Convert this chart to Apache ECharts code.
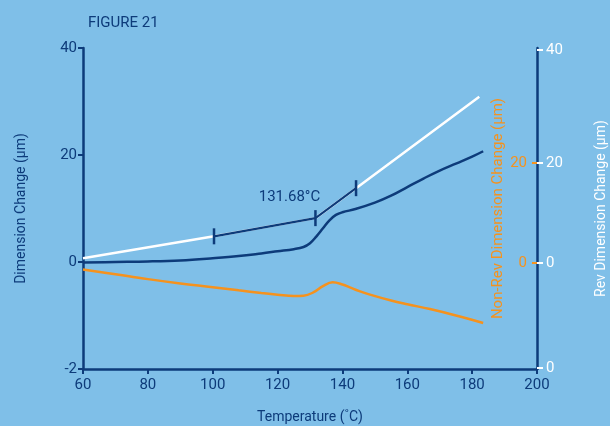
<!DOCTYPE html>
<html>
<head>
<meta charset="utf-8">
<script src="https://cdn.jsdelivr.net/npm/echarts@6/dist/echarts.min.js"></script>
<style>
  html, body { margin: 0; padding: 0; background: #7fbfe8; }
  #chart { width: 610px; height: 426px; }
</style>
</head>
<body>
<div id="chart"></div>
<script>
// Temperature axis
const tempMin = 60, tempMax = 200, tempStep = 20;

// Left axis: Dimension Change (µm)
const leftTicks = [-20, 0, 20, 40];
const leftTickText = ['-2', '0', '20', '40'];

// Right axes tick positions and their printed labels
const revTicks = [-19.8, -0.2, 18.5, 39.6];
const revTickText = ['0', '0', '20', '40'];
const nonRevTicks = [-0.2, 18.5];
const nonRevTickText = ['0', '20'];

// Total dimension change
const totalTemp = [60, 70, 80, 90, 100, 108, 115, 120, 125, 128, 130, 132, 134, 136, 138, 140, 144, 150, 155, 160, 165, 170, 175, 180, 183.4];
const totalVal  = [-0.1, 0.0, 0.1, 0.3, 0.7, 1.1, 1.6, 2.0, 2.4, 2.8, 3.5, 4.8, 6.3, 7.8, 8.8, 9.3, 9.9, 11.1, 12.4, 14.0, 15.6, 17.1, 18.4, 19.7, 20.7];

// Reversing dimension change
const revTemp = [60, 100.4, 131.68, 144.2, 182.2];
const revVal  = [0.7, 4.8, 8.2, 13.8, 30.9];

// Non-reversing dimension change
const nonRevTemp = [60, 70, 80, 90, 100, 108, 115, 120, 125, 128, 131, 134, 137, 140, 142.5, 145, 148.5, 155, 160, 167, 175, 183.4];
const nonRevVal  = [-1.4, -2.3, -3.2, -4.0, -4.7, -5.3, -5.8, -6.1, -6.35, -6.3, -5.7, -4.5, -3.8, -4.2, -4.8, -5.4, -6.1, -7.2, -7.9, -8.8, -10.0, -11.4];

// Glass transition construction on the reversing curve
const tgTemp = [100.4, 131.68, 144.2];
const tgVal  = [4.8, 8.2, 13.8];
const tgOnset = 131.68;

const navy = '#0d3b7a';
const orange = '#f5921e';
const white = '#ffffff';
const font = 'Roboto, "Noto Sans", sans-serif';

const zip = (xs, ys) => xs.map((x, i) => [x, ys[i]]);
const lookup = (ticks, texts) => v => {
  const i = ticks.findIndex(t => Math.abs(t - v) < 1e-6);
  return i >= 0 ? texts[i] : '';
};

const chart = echarts.init(document.getElementById('chart'), null, { renderer: 'canvas' });

chart.setOption({
  backgroundColor: '#7fbfe8',
  animation: false,
  textStyle: { fontFamily: font },
  title: {
    text: 'FIGURE 21',
    left: 83, top: 11,
    textStyle: { color: navy, fontSize: 15, fontWeight: 'normal', fontFamily: font }
  },
  grid: { left: 83, right: 73, top: 48, bottom: 57, containLabel: false, outerBoundsMode: 'none' },
  xAxis: {
    type: 'value',
    min: tempMin, max: tempMax, interval: tempStep,
    name: 'Temperature (˚C)',
    nameLocation: 'middle',
    nameGap: 41,
    nameTextStyle: { color: navy, fontSize: 14, fontFamily: font },
    axisLine: { show: true, onZero: false, lineStyle: { color: navy, width: 2.5 } },
    axisTick: { show: true, length: 5, lineStyle: { color: navy, width: 2 } },
    axisLabel: { color: navy, fontSize: 15, margin: 9, fontFamily: font },
    splitLine: { show: false }
  },
  yAxis: [
    {
      type: 'value',
      position: 'left',
      min: -20, max: 40, interval: 20,
      name: 'Dimension Change (µm)',
      nameLocation: 'middle',
      nameGap: 55,
      nameTextStyle: { color: navy, fontSize: 14, fontFamily: font },
      axisLine: { show: true, lineStyle: { color: navy, width: 2.5 } },
      axisTick: { show: true, length: 5, lineStyle: { color: navy, width: 2 } },
      axisLabel: { color: navy, fontSize: 15, margin: 6, fontFamily: font,
                   formatter: lookup(leftTicks, leftTickText) },
      splitLine: { show: false }
    },
    {
      type: 'value',
      position: 'right',
      min: -20, max: 40,
      name: 'Rev Dimension Change (µm)',
      nameLocation: 'middle',
      nameGap: 57,
      nameRotate: 90,
      nameTextStyle: { color: white, fontSize: 14, fontFamily: font },
      axisLine: { show: true, lineStyle: { color: navy, width: 2.5 } },
      axisTick: { show: true, length: 6, customValues: revTicks, lineStyle: { color: white, width: 2 } },
      axisLabel: { color: white, fontSize: 15, margin: 9, fontFamily: font,
                   customValues: revTicks, formatter: lookup(revTicks, revTickText) },
      splitLine: { show: false }
    },
    {
      type: 'value',
      position: 'right',
      min: -20, max: 40,
      name: 'Non-Rev Dimension Change (µm)',
      nameLocation: 'middle',
      nameGap: -46,
      nameRotate: 90,
      nameMoveOverlap: false,
      nameTextStyle: { color: orange, fontSize: 15, fontFamily: font },
      axisLine: { show: false },
      axisTick: { show: true, inside: true, length: 5, customValues: nonRevTicks, lineStyle: { color: orange, width: 2 } },
      axisLabel: { inside: true, color: orange, fontSize: 15, margin: 10, fontFamily: font,
                   customValues: nonRevTicks, formatter: lookup(nonRevTicks, nonRevTickText) },
      splitLine: { show: false }
    }
  ],
  series: [
    {
      name: 'Non-Rev Dimension Change',
      type: 'line',
      yAxisIndex: 2,
      data: zip(nonRevTemp, nonRevVal),
      smooth: 0.4,
      showSymbol: false,
      lineStyle: { color: orange, width: 2.5 },
      z: 2
    },
    {
      name: 'Rev Dimension Change',
      type: 'line',
      yAxisIndex: 1,
      data: zip(revTemp, revVal),
      showSymbol: false,
      lineStyle: { color: white, width: 2.5 },
      z: 3
    },
    {
      name: 'Dimension Change',
      type: 'line',
      yAxisIndex: 0,
      data: zip(totalTemp, totalVal),
      smooth: 0.4,
      showSymbol: false,
      lineStyle: { color: navy, width: 2.5 },
      z: 4
    },
    {
      name: 'Tg',
      type: 'line',
      yAxisIndex: 1,
      data: tgTemp.map((t, i) => ({
        value: [t, tgVal[i]],
        label: t === tgOnset ? {
          show: true,
          position: 'top',
          distance: 5,
          offset: [-26, 0],
          formatter: tgOnset.toFixed(2) + '°C',
          color: navy,
          fontSize: 15,
          fontFamily: font
        } : { show: false }
      })),
      symbol: 'rect',
      symbolSize: [2.5, 16],
      showSymbol: true,
      itemStyle: { color: navy },
      lineStyle: { color: navy, width: 2.2 },
      z: 5
    }
  ]
});
</script>
</body>
</html>
